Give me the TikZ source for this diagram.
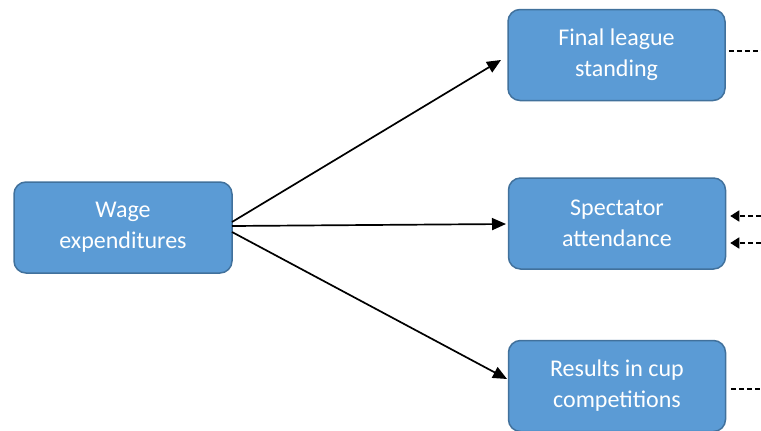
\documentclass[tikz,border=0pt]{standalone}
\usepackage{fontspec}
\setmainfont{Carlito}
\usetikzlibrary{arrows.meta}
\definecolor{boxfill}{HTML}{5B9BD5}
\definecolor{boxline}{HTML}{41719C}
\begin{document}
\begin{tikzpicture}[x=1pt,y=-1pt,
  box/.style={draw=boxline,fill=boxfill,line width=1.5pt,rounded corners=12pt,text=white,
    minimum width=217pt,minimum height=91pt,align=center,font=\fontsize{24}{31}\selectfont,inner sep=0pt},
  conn/.style={line width=1.7pt,-{Triangle[length=14pt,width=12pt]}},
  dashln/.style={line width=1.7pt,dash pattern=on 5pt off 3pt}]
\useasboundingbox (0,0) rectangle (761,431);
\node[box,minimum width=218pt] (wage) at (123,227.5) {Wage\\expenditures};
\node[box] (final) at (616.5,55) {Final league\\standing};
\node[box] (spect) at (617,223.5) {Spectator\\attendance};
\node[box] (cup) at (617,386) {Results in cup\\competitions};
\coordinate (w1) at (232,222);
\coordinate (w2) at (232,226);
\coordinate (w3) at (232,232);
\coordinate (f1) at (501,60);
\coordinate (s1) at (506,224);
\coordinate (c1) at (507,379);
\draw[conn] (w1) -- (f1);
\draw[conn] (w2) -- (s1);
\draw[conn] (w3) -- (c1);
\coordinate (fd) at (761,51);
\coordinate (sd1) at (761,216);
\coordinate (sd2) at (761,243);
\coordinate (cd) at (761,389);
\draw[dashln] ([xshift=3pt]final.east |- fd) -- (fd);
\draw[dashln,-{Triangle[length=9pt,width=11pt]}] (sd1) -- ([xshift=4pt]spect.east |- sd1);
\draw[dashln,-{Triangle[length=9pt,width=11pt]}] (sd2) -- ([xshift=4pt]spect.east |- sd2);
\draw[dashln] ([xshift=5pt]cup.east |- cd) -- (cd);
\end{tikzpicture}
\end{document}
